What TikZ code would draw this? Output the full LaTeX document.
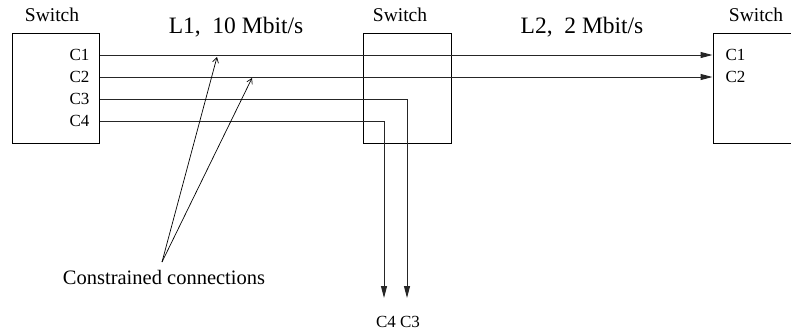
\documentclass[tikz,border=0pt]{standalone}
\usepackage{fontspec}
\setmainfont{Liberation Serif}
\usetikzlibrary{arrows.meta}

\tikzset{
  switchbox/.style={draw,line width=1pt,minimum width=87pt,minimum height=110pt,inner sep=0pt},
  wire/.style={line width=1pt,draw=black!85},
  pointer/.style={line width=0.7pt,-{Straight Barb[length=5pt,width=6pt]}},
  tip/.style={-{Triangle[length=12pt,width=6pt]}}
}

\begin{document}
\begin{tikzpicture}[x=1pt,y=-1pt,font=\fontsize{17}{20}\selectfont]
\useasboundingbox (0,0) rectangle (791,333);
\clip (0,0) rectangle (791,333);

\node[switchbox] (sw1) at (55.5,88) {};
\node[switchbox,minimum width=88pt] (sw2) at (407,88) {};
\node[switchbox,minimum width=120pt] (sw3) at (773,88) {};
\foreach \s/\x in {sw1/52,sw2/400,sw3/756}
  \node[anchor=base,font=\fontsize{19.5}{22}\selectfont] (\s-t) at (\x,21) {Switch};

\node[anchor=base,font=\fontsize{23.5}{26}\selectfont] (l1) at (236,33) {L1,\ \ 10 Mbit/s};
\node[anchor=base,font=\fontsize{23.5}{26}\selectfont] (l2) at (582,33) {L2,\ \ 2 Mbit/s};

\foreach \i/\y in {1/55,2/77,3/99,4/121}
  \node[anchor=east] (c\i) at (93,\y) {C\i};
\node[anchor=west] (r1) at (722,55) {C1};
\node[anchor=west] (r2) at (722,77) {C2};
\node (out) at (398,322) {C4 C3};
\node[font=\fontsize{20.5}{24}\selectfont] (cc) at (164,277) {Constrained connections};

\coordinate (d3) at (407,298);
\coordinate (d4) at (384,298);
\draw[wire,tip] (sw1.east |- c1) -- (sw3.west |- c1);
\draw[wire,tip] (sw1.east |- c2) -- (sw3.west |- c2);
\draw[wire,tip] (sw1.east |- c3) -| (d3);
\draw[wire,tip] (sw1.east |- c4) -| (d4);

\coordinate (fan) at (162,262);
\coordinate (p1) at (217,57);
\coordinate (p2) at (252,78);
\draw[pointer] (fan) -- (p1);
\draw[pointer] (fan) -- (p2);
\end{tikzpicture}
\end{document}
